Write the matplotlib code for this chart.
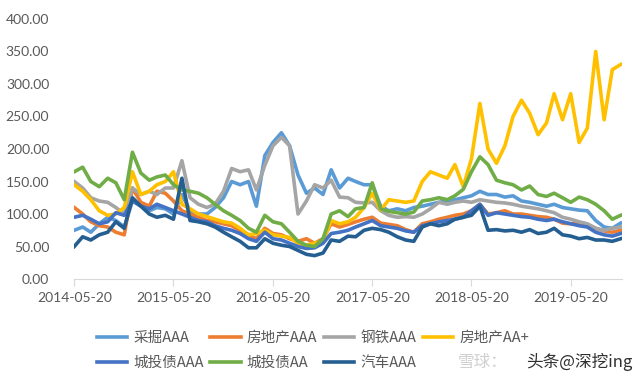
import numpy as np
import pandas as pd
import matplotlib.pyplot as plt
import matplotlib.dates as mdates

# monthly observations, 2014-05 .. 2019-11
dates = pd.date_range('2014-05-20', periods=67, freq=pd.DateOffset(months=1))

caijue_aaa = [75, 80, 72, 85, 95, 90, 80, 120, 115, 105, 110, 108, 100, 130, 105, 100, 100, 110,
              125, 150, 145, 150, 112, 190, 210, 225, 205, 160, 132, 140, 130, 168, 140, 155, 150, 145,
              145, 112, 105, 108, 105, 110, 112, 115, 118, 120, 122, 125, 128, 135, 130, 130, 126, 128,
              120, 118, 115, 112, 115, 110, 108, 106, 105, 90, 80, 78, 86]
fdc_aaa = [110, 100, 88, 82, 80, 72, 68, 140, 118, 112, 135, 132, 120, 105, 100, 95, 90, 88,
           85, 82, 75, 68, 62, 78, 70, 68, 62, 58, 62, 55, 62, 85, 80, 84, 88, 92,
           95, 86, 84, 82, 76, 72, 85, 88, 92, 95, 98, 100, 105, 115, 100, 102, 105, 100,
           100, 98, 96, 95, 92, 86, 85, 86, 84, 78, 74, 72, 75]
gangtie_aaa = [150, 140, 125, 120, 118, 110, 100, 140, 130, 135, 130, 140, 140, 182, 125, 115, 110, 115,
               135, 170, 165, 168, 137, 175, 205, 218, 205, 100, 120, 145, 140, 152, 126, 125, 118, 117,
               118, 105, 98, 95, 96, 95, 100, 108, 118, 115, 118, 120, 118, 122, 120, 118, 117, 115,
               112, 110, 108, 105, 102, 95, 92, 88, 85, 78, 75, 78, 80]
fdc_aa_plus = [145, 135, 122, 105, 98, 100, 110, 165, 130, 135, 145, 150, 165, 115, 108, 100, 96, 92,
               88, 86, 78, 68, 70, 75, 68, 66, 64, 55, 52, 55, 58, 90, 85, 88, 95, 110,
               132, 106, 122, 120, 118, 120, 150, 165, 160, 155, 176, 142, 185, 270, 200, 178, 205, 250,
               275, 255, 222, 240, 285, 245, 285, 210, 232, 350, 245, 322, 330]
chengtou_aaa = [95, 98, 92, 85, 88, 102, 98, 120, 112, 108, 115, 110, 105, 100, 95, 90, 88, 82,
                78, 75, 70, 62, 58, 72, 62, 60, 55, 50, 47, 48, 55, 70, 72, 75, 80, 85,
                90, 82, 80, 78, 74, 72, 82, 85, 88, 90, 92, 95, 105, 115, 98, 102, 100, 98,
                96, 95, 92, 90, 92, 88, 85, 82, 80, 72, 68, 66, 70]
chengtou_aa = [165, 172, 150, 142, 155, 148, 122, 195, 163, 152, 157, 160, 145, 137, 135, 132, 125, 115,
               105, 98, 90, 78, 72, 98, 88, 85, 72, 58, 52, 50, 62, 100, 105, 96, 108, 110,
               148, 108, 104, 102, 100, 103, 120, 122, 125, 122, 128, 138, 165, 188, 176, 152, 148, 145,
               137, 143, 130, 127, 132, 125, 118, 126, 122, 115, 105, 92, 98]
qiche_aaa = [50, 65, 60, 68, 72, 88, 78, 125, 112, 100, 95, 98, 92, 155, 90, 88, 85, 80,
             72, 65, 58, 48, 48, 62, 55, 52, 50, 44, 38, 36, 40, 60, 58, 66, 65, 75,
             78, 76, 72, 65, 60, 58, 80, 85, 82, 85, 92, 95, 98, 112, 75, 76, 74, 75,
             72, 76, 70, 72, 78, 68, 66, 62, 64, 60, 60, 58, 62]

labels = ['采掘AAA', '房地产AAA', '钢铁AAA', '房地产AA+', '城投债AAA', '城投债AA', '汽车AAA']
colors = ['#5B9BD5', '#ED7D31', '#A5A5A5', '#FFC000', '#4472C4', '#70AD47', '#255E91']
series = [caijue_aaa, fdc_aaa, gangtie_aaa, fdc_aa_plus, chengtou_aaa, chengtou_aa, qiche_aaa]

tick_dates = pd.to_datetime(['2014-05-20', '2015-05-20', '2016-05-20',
                             '2017-05-20', '2018-05-20', '2019-05-20'])

cjk = ['Noto Sans CJK SC', 'DejaVu Sans']

fig = plt.figure(figsize=(6.4, 3.87), dpi=100)
ax = fig.add_axes([0.116, 0.279, 0.856, 0.672])

lines = []
for vals, lab, col in zip(series, labels, colors):
    ln, = ax.plot(dates, vals, color=col, lw=2.6, label=lab)
    lines.append(ln)

ax.set_xlim(pd.Timestamp('2014-05-20'), pd.Timestamp('2019-11-25'))
ax.set_ylim(0, 400)
ax.set_yticks(np.arange(0, 401, 50))
ax.yaxis.set_major_formatter(plt.FuncFormatter(lambda v, p: f'{v:.2f}'))
ax.set_xticks(tick_dates)
ax.xaxis.set_major_formatter(mdates.DateFormatter('%Y-%m-%d'))

for s in ['top', 'right', 'left']:
    ax.spines[s].set_visible(False)
ax.spines['bottom'].set_color('#D9D9D9')
ax.tick_params(axis='y', length=0, pad=18, labelsize=10, labelcolor='#595959')
ax.tick_params(axis='x', length=5, color='#D9D9D9', pad=4, labelsize=10, labelcolor='#595959')
for t in ax.get_xticklabels() + ax.get_yticklabels():
    t.set_fontfamily('Lato')

# row-major order for a column-major legend
order = [0, 4, 1, 5, 2, 6, 3]
leg = fig.legend([lines[i] for i in order], [labels[i] for i in order],
                 loc='upper left', bbox_to_anchor=(0.135, 0.172), ncol=4, frameon=False,
                 handlelength=2.1, handletextpad=0.4, columnspacing=0.45, labelspacing=0.8,
                 borderpad=0.2, prop={'family': cjk, 'size': 10.5})
for t in leg.get_texts():
    t.set_color('#595959')

fig.text(0.715, 0.052, '雪球：', color='#D0D0D0', fontsize=12, family=cjk)
fig.text(0.988, 0.052, '头条@深挖ing', color='#303030', fontsize=12, ha='right', family=cjk)

fig.savefig('out.png', dpi=100)
